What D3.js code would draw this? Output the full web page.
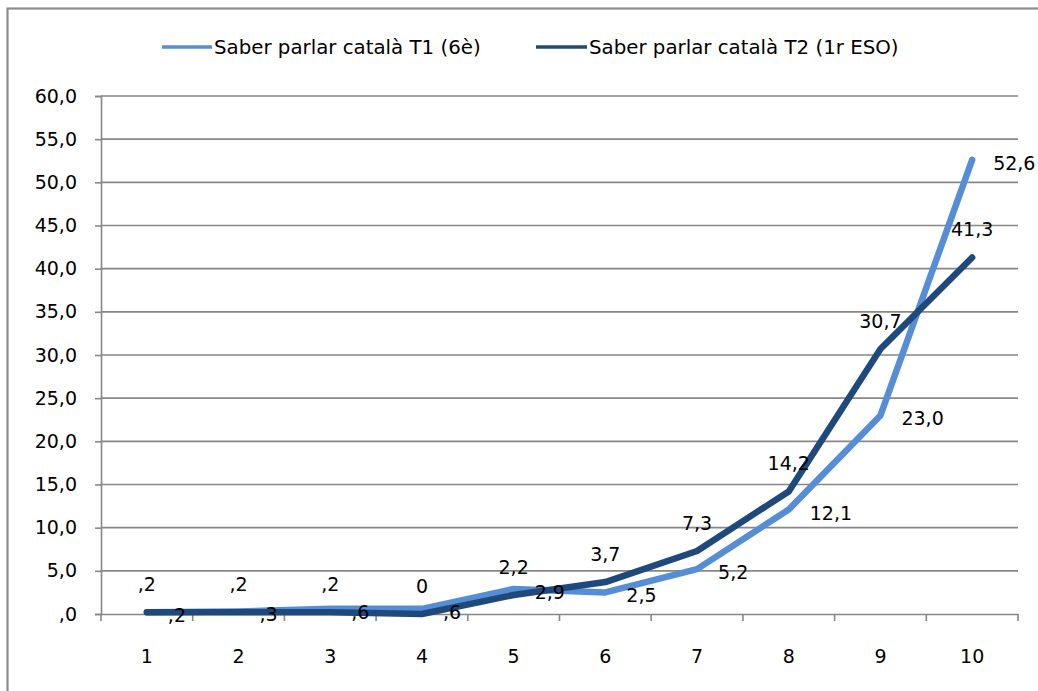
<!DOCTYPE html>
<html>
<head>
<meta charset="utf-8">
<script src="https://cdn.jsdelivr.net/npm/d3@7"></script>
<style>
  html, body { margin: 0; padding: 0; background: #fff; }
  svg { display: block; }
  text { font-family: "DejaVu Sans", Verdana, sans-serif; fill: #000; }
</style>
</head>
<body>
<svg id="chart" width="1038" height="691"></svg>
<script>
// Categories along the x axis
const categories = ["1", "2", "3", "4", "5", "6", "7", "8", "9", "10"];
// Series values (percent)
const seriesT1 = [0.2, 0.3, 0.6, 0.6, 2.9, 2.5, 5.2, 12.1, 23.0, 52.6];
const seriesT2 = [0.2, 0.2, 0.2, 0.0, 2.2, 3.7, 7.3, 14.2, 30.7, 41.3];
const seriesNames = ["Saber parlar català T1 (6è)", "Saber parlar català T2 (1r ESO)"];
const seriesColors = ["#558ED5", "#1F497D"];
// Y axis ticks
const yTicks = [0, 5, 10, 15, 20, 25, 30, 35, 40, 45, 50, 55, 60];

const svg = d3.select("#chart");
const W = 1038, H = 691;
const plot = { left: 101, right: 1018, top: 96, bottom: 614 };

// Outer chart frame
svg.append("rect")
  .attr("x", 7.5).attr("y", 8.5)
  .attr("width", W + 20).attr("height", H + 20)
  .attr("fill", "none").attr("stroke", "#8c8c8c").attr("stroke-width", 2.2);

const x = d3.scaleBand().domain(categories).range([plot.left, plot.right]);
const y = d3.scaleLinear().domain([0, 60]).range([plot.bottom, plot.top]);
const cx = c => x(c) + x.bandwidth() / 2;

const commaFmt = v => v.toFixed(1).replace(".", ",");
const yFmt = v => v === 0 ? ",0" : commaFmt(v);
const labelFmt = v => {
  if (v === 0) return "0";
  const s = commaFmt(v);
  return s.startsWith("0,") ? s.slice(1) : s;
};

// Horizontal gridlines
svg.append("g")
  .selectAll("line")
  .data(yTicks.filter(t => t > 0))
  .join("line")
  .attr("x1", plot.left).attr("x2", plot.right)
  .attr("y1", d => y(d)).attr("y2", d => y(d))
  .attr("stroke", "#878787").attr("stroke-width", 1.6);

// Y axis
const yAxis = svg.append("g")
  .attr("transform", `translate(${plot.left},0)`)
  .call(d3.axisLeft(y).tickValues(yTicks).tickFormat(yFmt).tickSize(6).tickPadding(18));
yAxis.select(".domain").attr("stroke", "#878787").attr("stroke-width", 1.6);
yAxis.selectAll(".tick line").attr("stroke", "#878787").attr("stroke-width", 1.6);
yAxis.selectAll(".tick text")
  .style("font-family", "'DejaVu Sans', Verdana, sans-serif")
  .style("font-size", "19px").attr("fill", "#000");

// X axis with ticks between categories
const xAxis = svg.append("g")
  .attr("transform", `translate(0,${plot.bottom})`)
  .call(d3.axisBottom(x).tickSize(0).tickPadding(36));
xAxis.select(".domain").attr("stroke", "#878787").attr("stroke-width", 1.6);
xAxis.selectAll(".tick text")
  .style("font-family", "'DejaVu Sans', Verdana, sans-serif")
  .style("font-size", "19px").attr("fill", "#000");
const boundaries = categories.map(c => x(c)).concat([plot.right]);
svg.append("g")
  .selectAll("line")
  .data(boundaries)
  .join("line")
  .attr("x1", d => d).attr("x2", d => d)
  .attr("y1", plot.bottom).attr("y2", plot.bottom + 7)
  .attr("stroke", "#878787").attr("stroke-width", 1.6);

// Lines
const line = d3.line()
  .x((d, i) => cx(categories[i]))
  .y(d => y(d));

[seriesT1, seriesT2].forEach((s, k) => {
  svg.append("path")
    .datum(s)
    .attr("d", line)
    .attr("fill", "none")
    .attr("stroke", seriesColors[k])
    .attr("stroke-width", 6.5)
    .attr("stroke-linejoin", "round")
    .attr("stroke-linecap", "round");
});

// Data labels: T1 to the right of the point, T2 above it
svg.append("g")
  .selectAll("text")
  .data(seriesT1)
  .join("text")
  .attr("x", (d, i) => cx(categories[i]) + 21)
  .attr("y", d => y(d) + 10)
  .attr("font-size", 19)
  .text(d => labelFmt(d));

svg.append("g")
  .selectAll("text")
  .data(seriesT2)
  .join("text")
  .attr("x", (d, i) => cx(categories[i]))
  .attr("y", d => y(d) - 21)
  .attr("text-anchor", "middle")
  .attr("font-size", 19)
  .text(d => labelFmt(d));

// Legend
const legendItems = [
  { x0: 162, x1: 212, tx: 214 },
  { x0: 536, x1: 587, tx: 589 }
];
legendItems.forEach((it, k) => {
  svg.append("line")
    .attr("x1", it.x0).attr("x2", it.x1)
    .attr("y1", 47).attr("y2", 47)
    .attr("stroke", seriesColors[k]).attr("stroke-width", 3.5);
  svg.append("text")
    .attr("x", it.tx).attr("y", 54)
    .attr("font-size", 19.8)
    .text(seriesNames[k]);
});
</script>
</body>
</html>
